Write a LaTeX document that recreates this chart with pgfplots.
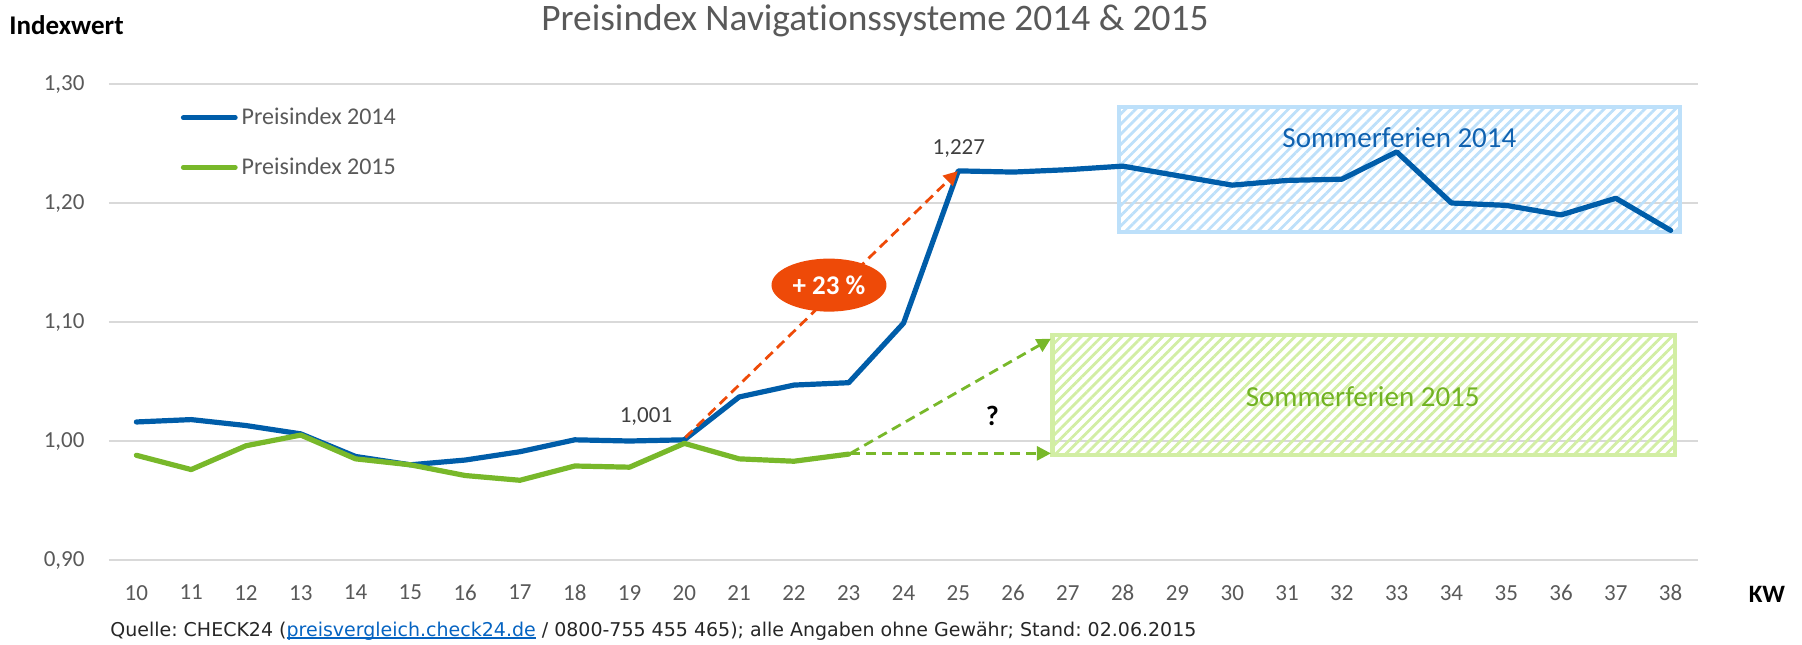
\documentclass[border=0pt]{standalone}
\usepackage{pgfplots}
\pgfplotsset{compat=1.18}
\usepackage{fontspec}
\setmainfont{Carlito}[Ligatures=NoCommon]
\newfontfamily\footfont{DejaVu Sans}
\usetikzlibrary{patterns.meta,arrows.meta,shapes.geometric}
\definecolor{cblue}{HTML}{005DA9}
\definecolor{cgreen}{HTML}{78B82A}
\definecolor{corange}{HTML}{EE4A08}
\definecolor{rblue}{HTML}{BDE0FA}
\definecolor{rgreen}{HTML}{D2EEA4}
\definecolor{tgray}{HTML}{595959}
\definecolor{dgray}{HTML}{404040}
\definecolor{gridc}{HTML}{D9D9D9}
\definecolor{tblue}{HTML}{1062B0}
\definecolor{tgreen}{HTML}{72B324}
\definecolor{link}{HTML}{0563C1}
\newcommand\ulink[1]{{\setbox0\hbox{#1}\rlap{\rule[-1.2pt]{\wd0}{0.6pt}}\box0}}
\frenchspacing
\begin{document}
\begin{tikzpicture}
\path[use as bounding box] (-54.5pt,-42pt) rectangle (846.5pt,280pt);
\begin{axis}[
  at={(0pt,0pt)}, anchor=south west,
  scale only axis, width=794.5pt, height=238pt,
  xmin=9.5, xmax=38.5, ymin=0.9, ymax=1.3,
  xtick={10,...,38}, ytick={0.9,1.0,1.1,1.2,1.3},
  ymajorgrids, grid style={gridc, line width=1pt},
  axis line style={draw=none}, major tick length=0pt,
  clip=false,
  /pgf/number format/assume math mode=true,
  /pgf/number format/use comma,
  ticklabel style={font=\fontsize{11.5}{13}\selectfont, text=tgray},
  xticklabel style={yshift=-9pt},
  yticklabel style={xshift=-8.7pt, /pgf/number format/.cd, fixed, fixed zerofill, precision=2, use comma},
  legend cell align=left,
  legend style={draw=none, fill=none, at={(axis description cs:0.045,0.877)}, anchor=west,
    row sep=11pt, font=\fontsize{12}{14}\selectfont, text=tgray, inner xsep=0pt, inner ysep=0pt},
  legend image code/.code={\draw[#1, line width=2.4pt] (0pt,0pt) -- (26pt,0pt);},
]
% summer holiday boxes
\fill[pattern={Lines[angle=45, distance=3.6pt, line width=1.4pt]}, pattern color=rblue]
  (axis cs:27.93,1.1756) rectangle (axis cs:38.17,1.2806);
\draw[rblue, line width=2.2pt] (axis cs:27.93,1.1756) rectangle (axis cs:38.17,1.2806);
\fill[pattern={Lines[angle=45, distance=3.6pt, line width=1.4pt]}, pattern color=rgreen]
  (axis cs:26.72,0.988) rectangle (axis cs:38.08,1.0893);
\draw[rgreen, line width=2.2pt] (axis cs:26.72,0.988) rectangle (axis cs:38.08,1.0893);
\node[text=tblue, font=\fontsize{14.5}{16}\selectfont] at (axis cs:33.05,1.2546) {Sommerferien 2014};
\node[text=tgreen, font=\fontsize{14.5}{16}\selectfont] at (axis cs:32.38,1.0372) {Sommerferien 2015};

\addplot[cblue, line width=2.6pt, line join=round, line cap=round] coordinates {
(10,1.016) (11,1.018) (12,1.013) (13,1.006) (14,0.987) (15,0.980) (16,0.984)
(17,0.991) (18,1.001) (19,1.000) (20,1.001) (21,1.037) (22,1.047) (23,1.049)
(24,1.099) (25,1.227) (26,1.226) (27,1.228) (28,1.231) (29,1.223) (30,1.215)
(31,1.219) (32,1.220) (33,1.243) (34,1.200) (35,1.198) (36,1.190) (37,1.204) (38,1.177)};
\addlegendentry{Preisindex 2014}
\addplot[cgreen, line width=2.6pt, line join=round, line cap=round] coordinates {
(10,0.988) (11,0.976) (12,0.996) (13,1.005) (14,0.985) (15,0.980) (16,0.971)
(17,0.967) (18,0.979) (19,0.978) (20,0.998) (21,0.985) (22,0.983) (23,0.989)};
\addlegendentry{Preisindex 2015}

% arrows
\draw[corange, line width=1.4pt, dash pattern=on 5pt off 3pt, -{Triangle[length=7pt,width=7pt]}]
  (axis cs:20.02,1.003) -- (axis cs:24.99,1.2268);
\draw[cgreen, line width=1.4pt, dash pattern=on 5pt off 3pt, -{Triangle[length=7pt,width=7pt]}]
  (axis cs:23.03,0.9896) -- (axis cs:26.69,1.086);
\draw[cgreen, line width=1.4pt, dash pattern=on 5pt off 3pt, -{Triangle[length=7pt,width=7pt]}]
  (axis cs:23.03,0.9896) -- (axis cs:26.69,0.9896);
\node[ellipse, fill=corange, inner sep=0pt, minimum width=57.5pt, minimum height=26.5pt,
  text=white, font=\bfseries\fontsize{13.5}{15}\selectfont] at (axis cs:22.64,1.131) {+ 23 \%};
\node[font=\bfseries\fontsize{14}{16}\selectfont] at (axis cs:25.62,1.0212) {?};
\node[text=dgray, font=\fontsize{11.5}{13}\selectfont] at (axis cs:19.30,1.0206) {1,001};
\node[text=dgray, font=\fontsize{11.5}{13}\selectfont] at (axis cs:25.01,1.246) {1,227};

% outer texts
\node[text=tgray, font=\fontsize{18.7}{21}\selectfont] at (axis description cs:0.482,1.1324)
  {Preisindex Navigationssysteme 2014 \& 2015};
\node[anchor=west, inner sep=0pt, font=\bfseries\fontsize{13.5}{15}\selectfont] at (axis description cs:-0.0629,1.124) {Indexwert};
\node[font=\bfseries\fontsize{12.5}{14}\selectfont] at (axis description cs:1.0434,-0.0714) {KW};
\node[anchor=west, inner sep=0pt, text=black!85, font=\footfont\fontsize{9.5}{11}\selectfont] at (axis description cs:0.0006,-0.1492)
  {Quelle: CHECK24 (\textcolor{link}{\ulink{preisvergleich.check24.de}}~/ 0800-755 455 465); alle Angaben ohne Gewähr; Stand: 02.06.2015};
\end{axis}
\end{tikzpicture}
\end{document}
